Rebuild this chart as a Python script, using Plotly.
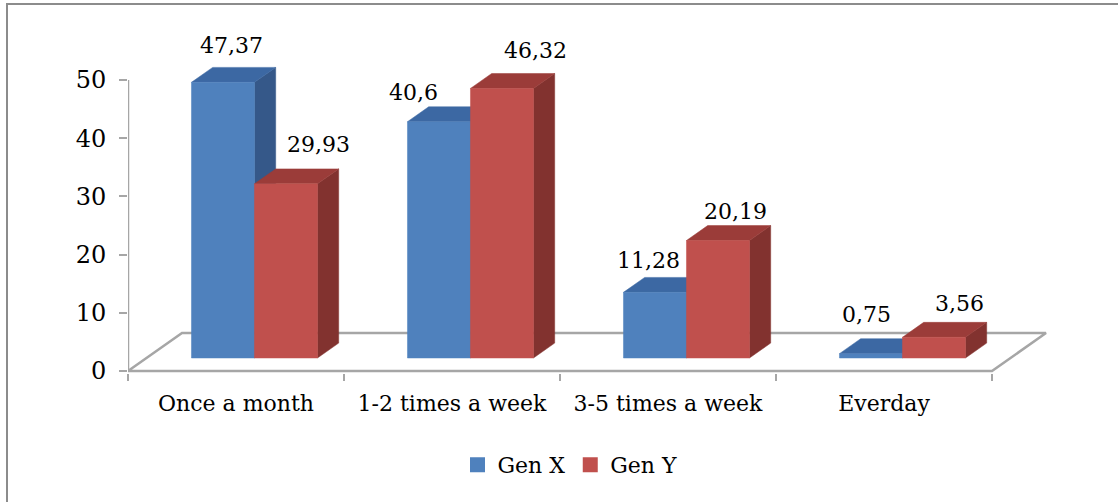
import plotly.graph_objects as go

# ---- data ----
categories = ["Once a month", "1-2 times a week", "3-5 times a week", "Everday"]
gen_x = [47.37, 40.6, 11.28, 0.75]
gen_y = [29.93, 46.32, 20.19, 3.56]
y_ticks = [0, 10, 20, 30, 40, 50]


def fmt(v):
    return f"{v:g}".replace(".", ",")


# ---- canvas / scale ----
W, H = 1118, 502
M_L, M_R, M_T, M_B = 128, 58, 30, 129
PX_Y = 5.82          # pixels per value unit
PX_X = 216.0         # pixels per category
plot_w = W - M_L - M_R
plot_h = H - M_T - M_B
y_min = -2.0 / PX_Y
y_max = y_min + plot_h / PX_Y
x_max = plot_w / PX_X

# 3-D projection (oblique): depth of the floor in data units
DX = 54.0 / PX_X
DY = 38.0 / PX_Y
F_FRONT, F_BACK = 0.342, 0.735   # bar front / back as fraction of floor depth
BW = 63.0 / PX_X                 # bar width in category units
n = len(categories)

FONT = "DejaVu Serif"
GRID = "#A6A6A6"
styles = {
    "Gen X": dict(front="#4F81BD", side="#355889", top="#3C68A3"),
    "Gen Y": dict(front="#C0504D", side="#82322F", top="#9B3C39"),
}
# label offsets in pixels (right, up) from the bar's top face
label_shift = {
    "Gen X": ([-2, -36, -17, -15], [37, 29, 32, 39]),
    "Gen Y": ([22, 23, 7, 15], [39, 38, 29, 34]),
}


def poly(xs, ys, color, line_color=None, width=0):
    return go.Scatter(
        x=list(xs) + [xs[0]], y=list(ys) + [ys[0]],
        mode="lines", fill="toself", fillcolor=color,
        line=dict(color=line_color or color, width=width),
        hoverinfo="skip", showlegend=False,
    )


fig = go.Figure()

# floor
fig.add_trace(poly([0, n, n + DX, DX], [0, 0, DY, DY], "white", GRID, 2.5))
# vertical axis line
fig.add_trace(go.Scatter(x=[0, 0], y=[0, max(y_ticks)], mode="lines",
                         line=dict(color=GRID, width=2.5),
                         hoverinfo="skip", showlegend=False))

ddx = (F_BACK - F_FRONT) * DX
ddy = (F_BACK - F_FRONT) * DY
yb = F_FRONT * DY
annotations = []
for i in range(n):
    for k, (name, vals) in enumerate((("Gen X", gen_x), ("Gen Y", gen_y))):
        st = styles[name]
        v = vals[i]
        x0 = i + 0.5 - BW + k * BW + F_FRONT * DX
        x1 = x0 + BW
        yt = yb + v
        fig.add_trace(poly([x1, x1 + ddx, x1 + ddx, x1],
                           [yb, yb + ddy, yt + ddy, yt], st["side"], width=0.5))
        fig.add_trace(poly([x0, x1, x1 + ddx, x0 + ddx],
                           [yt, yt, yt + ddy, yt + ddy], st["top"], width=0.5))
        fig.add_trace(poly([x0, x1, x1, x0], [yb, yb, yt, yt], st["front"], width=0.5))
        sx, sy = label_shift[name]
        annotations.append(dict(
            x=x0 + BW / 2 + ddx / 2, y=yt, xref="x", yref="y",
            text=fmt(v), showarrow=False, xanchor="center", yanchor="middle",
            xshift=sx[i], yshift=sy[i],
            font=dict(family=FONT, size=22, color="black"),
        ))

# legend entries
for name in ("Gen X", "Gen Y"):
    fig.add_trace(go.Scatter(
        x=[None], y=[None], mode="markers", name=name,
        marker=dict(symbol="square", size=15, color=styles[name]["front"]),
    ))

fig.update_layout(
    width=W, height=H,
    margin=dict(l=M_L, r=M_R, t=M_T, b=M_B, autoexpand=False),
    paper_bgcolor="white", plot_bgcolor="white",
    template="none",
    font=dict(family=FONT, size=22, color="black"),
    annotations=annotations,
    showlegend=True,
    legend=dict(
        orientation="h", xref="container", yref="container",
        x=570 / W, y=1 - 465 / H, xanchor="center", yanchor="middle",
        font=dict(family=FONT, size=22, color="black"),
        bgcolor="rgba(0,0,0,0)", itemclick=False,
    ),
    xaxis=dict(
        range=[0, x_max], showgrid=False, zeroline=False, showline=False,
        automargin=False, fixedrange=True,
        tickmode="array", tickvals=[i + 0.5 for i in range(n)], ticktext=categories,
        ticks="", ticklabelstandoff=15,
        tickfont=dict(family=FONT, size=22, color="black"),
        minor=dict(tickmode="array", tickvals=list(range(n + 1)), ticks="outside",
                   ticklen=7, tickwidth=2, tickcolor=GRID, showgrid=False),
    ),
    yaxis=dict(
        range=[y_min, y_max], showgrid=False, zeroline=False, showline=False,
        automargin=False, fixedrange=True,
        tickmode="array", tickvals=y_ticks, ticktext=[str(t) for t in y_ticks],
        ticks="outside", ticklen=8, tickwidth=2, tickcolor=GRID,
        ticklabelstandoff=8,
        tickfont=dict(family=FONT, size=24, color="black"),
    ),
    shapes=[dict(
        type="rect", xref="paper", yref="paper",
        x0=(7 - M_L) / plot_w, x1=(W + 20 - M_L) / plot_w,
        y0=-(H + 20 - (H - M_B)) / plot_h, y1=1 + (M_T - 4) / plot_h,
        line=dict(color="#8C8C8C", width=2), fillcolor="rgba(0,0,0,0)", layer="below",
    )],
)

fig.write_html("out.html")
